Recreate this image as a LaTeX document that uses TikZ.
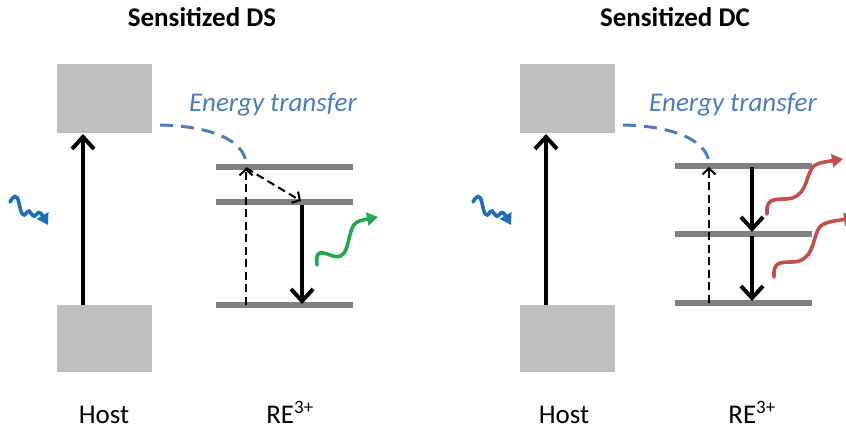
\documentclass[tikz,border=0pt]{standalone}
\usepackage{fontspec}
\setmainfont{Carlito}
\usetikzlibrary{arrows.meta}
\definecolor{hostgray}{HTML}{BFBFBF}
\definecolor{levelgray}{HTML}{808080}
\definecolor{etblue}{HTML}{4A7EBB}
\definecolor{photonblue}{HTML}{1C6EC0}
\definecolor{emitgreen}{HTML}{1FAA4B}
\definecolor{emitred}{HTML}{C0504D}
\begin{document}
\begin{tikzpicture}[
x=1pt, y=-1pt,
every node/.style={font=\fontsize{27}{32}\selectfont},
hostbox/.style={fill=hostgray, minimum width=95pt, minimum height=69pt, inner sep=0pt},
level/.style={fill=levelgray, minimum width=137pt, minimum height=6pt, inner sep=0pt},
pump/.style={line width=4pt, -{Straight Barb[length=12pt,width=22pt,line width=4pt]}},
relax/.style={line width=2pt, dash pattern=on 8pt off 4.5pt, -{Straight Barb[length=6pt,width=13pt,line width=2pt]}},
transfer/.style={etblue, line width=3pt, dash pattern=on 13pt off 8pt},
photon/.style={line width=3.6pt, line cap=round, -{Triangle[length=11pt,width=13pt]}}
]
\useasboundingbox (0,0) rectangle (846,430);

% Sensitized DS
\node[font=\fontsize{27}{32}\selectfont\bfseries, anchor=base] (dstitle) at (202,27) {Sensitized DS};
\node[hostbox] (dshi) at (104.5,98.5) {};
\node[hostbox, minimum height=67pt] (dslo) at (104.5,338.5) {};
\node[anchor=base] (dshost) at (104,423) {Host};
\node[anchor=base] (dsre) at (290,423) {RE\textsuperscript{3+}};
\node[level] (dsE2) at (284.5,167) {};
\node[level] (dsE1) at (284.5,202) {};
\node[level] (dsE0) at (284.5,305) {};
\node[etblue, font=\fontsize{27}{32}\selectfont\itshape, anchor=base] (dset) at (273,112) {Energy transfer};
\coordinate (dsin) at (10,202);
\coordinate (dsout) at (378,217);

\draw[pump] (83,305) -- (83,134);
\draw[transfer] (160,125) .. controls (210,126) and (244,140) .. (246,163);
\draw[relax] (246,305) -- (246,168);
\draw[relax] (246,168) -- (301,201);
\draw[pump] (302,205) -- (302,304);
\draw[photon, photonblue] (dsin) .. controls (13,196) and (17,193) .. (19,203)
  .. controls (21,213) and (23,219) .. (27,212)
  .. controls (30,207) and (32,220) .. (36,215)
  .. controls (38,212) and (40,211) .. (48,225);
\draw[photon, emitgreen] (317,265) .. controls (315,249) and (322,252) .. (333,256)
  .. controls (347,260) and (347,244) .. (350,235)
  .. controls (353,222) and (357,221) .. (dsout);

% Sensitized DC
\node[font=\fontsize{27}{32}\selectfont\bfseries, anchor=base] (dctitle) at (675,27) {Sensitized DC};
\node[hostbox] (dchi) at (567.5,98.5) {};
\node[hostbox, minimum height=67pt] (dclo) at (567.5,338.5) {};
\node[anchor=base] (dchost) at (564,423) {Host};
\node[anchor=base] (dcre) at (752,423) {RE\textsuperscript{3+}};
\node[level] (dcE2) at (743,166) {};
\node[level] (dcE1) at (743,234) {};
\node[level] (dcE0) at (743,303) {};
\node[etblue, font=\fontsize{27}{32}\selectfont\itshape, anchor=base] (dcet) at (733,112) {Energy transfer};
\coordinate (dcin) at (473,202);
\coordinate (dcout) at (843,159);
\coordinate (dcoutb) at (855,218);

\draw[pump] (546,305) -- (546,134);
\draw[transfer] (623,125) .. controls (673,126) and (707,140) .. (709,163);
\draw[relax] (709,303) -- (709,167);
\draw[pump] (752,167) -- (752,232);
\draw[pump] (752,236) -- (752,301);
\draw[photon, photonblue] (dcin) .. controls (476,196) and (480,193) .. (482,203)
  .. controls (484,213) and (486,219) .. (490,212)
  .. controls (493,207) and (495,220) .. (499,215)
  .. controls (501,212) and (503,211) .. (511,225);
\draw[photon, emitred] (767,214) .. controls (766,200) and (772,199) .. (785,199)
  .. controls (806,199) and (806,178) .. (810,172)
  .. controls (813,164) and (818,163) .. (dcout);
\draw[photon, emitred] (774,277) .. controls (773,263) and (779,262) .. (792,262)
  .. controls (813,262) and (813,240) .. (817,232)
  .. controls (820,224) and (825,222) .. (dcoutb);
\end{tikzpicture}
\end{document}
